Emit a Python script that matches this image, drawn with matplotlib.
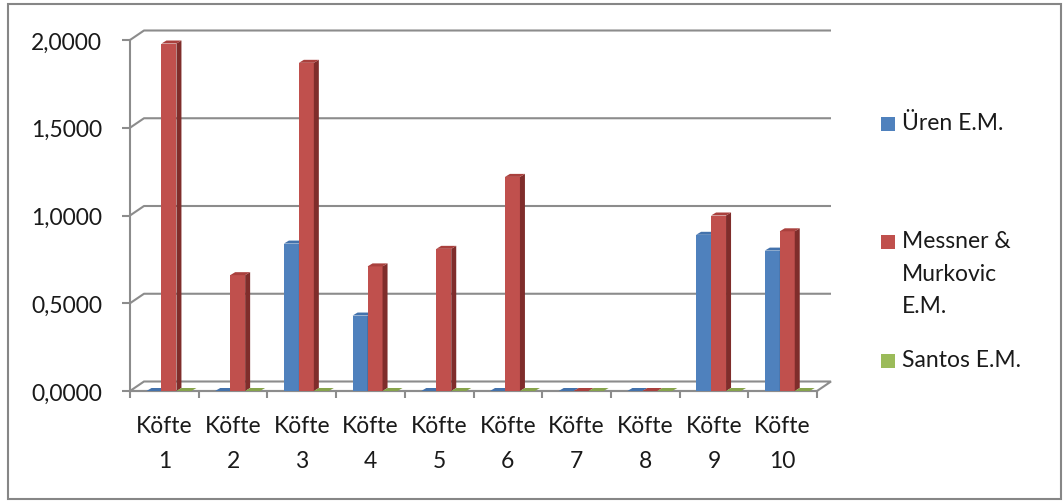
import matplotlib
matplotlib.use("Agg")
import matplotlib.pyplot as plt
from matplotlib.patches import Polygon, Rectangle

# ---- data -------------------------------------------------------------
categories = ["Köfte\n1", "Köfte\n2", "Köfte\n3", "Köfte\n4", "Köfte\n5",
              "Köfte\n6", "Köfte\n7", "Köfte\n8", "Köfte\n9", "Köfte\n10"]
series_names = ["Üren E.M.", "Messner &\nMurkovic\nE.M.", "Santos E.M."]
uren = [0.0, 0.0, 0.84, 0.43, 0.0, 0.0, 0.0, 0.0, 0.89, 0.80]
messner = [1.98, 0.66, 1.87, 0.71, 0.81, 1.22, 0.0, 0.0, 1.00, 0.91]
santos = [0.0, 0.0, 0.0, 0.0, 0.0, 0.0, 0.0, 0.0, 0.0, 0.0]
y_ticks = [0.0, 0.5, 1.0, 1.5, 2.0]

# ---- style ------------------------------------------------------------
FONT = "Lato"
FS = 16.5
TXT = "#1a1a1a"
GRID = "#8c8c8c"
front_cols = ["#4f81bd", "#c0504d", "#9bbb59"]
side_cols = ["#385d8a", "#7f2d2b", "#71893f"]
top_cols = ["#4372ac", "#a9403d", "#87a44c"]

W, H = 1063, 502
fig = plt.figure(figsize=(W / 100, H / 100), dpi=100)
fig.patch.set_facecolor("white")

# front plane of the plot in pixels
x0px, y0px = 130, 392
cat_px = 68.7
unit_px = 175.5
n = len(categories)
ax = fig.add_axes([x0px / W, (H - y0px) / H, n * cat_px / W, 2.0 * unit_px / H])
ax.set_xlim(0, n)
ax.set_ylim(0, 2.0)
ax.set_facecolor("none")
for sp in ax.spines.values():
    sp.set_visible(False)

# depth offsets (pixels converted to data units)
wall_dx, wall_dy = 14 / cat_px, 9.5 / unit_px
bar_dx, bar_dy = 5 / cat_px, 3 / unit_px

# floor
floor = Polygon([(0, 0), (n, 0), (n + wall_dx, wall_dy), (wall_dx, wall_dy)],
                closed=True, facecolor="white", edgecolor=GRID, lw=1.5,
                clip_on=False, zorder=1)
ax.add_patch(floor)

# back-wall gridlines with their side-wall diagonals
for v in y_ticks[1:]:
    ax.plot([0, wall_dx, n + wall_dx], [v, v + wall_dy, v + wall_dy],
            color=GRID, lw=1.5, clip_on=False, zorder=1,
            solid_capstyle="butt")

# front axis lines
ax.plot([0, 0], [0, 2.0], color=GRID, lw=1.5, clip_on=False, zorder=2)
ax.plot([0, n], [0, 0], color=GRID, lw=1.5, clip_on=False, zorder=2)

# bars with side and top faces
bar_w = 0.218
start = 0.24
for s, vals in enumerate([uren, messner, santos]):
    for i, v in enumerate(vals):
        x = i + start + s * bar_w
        z = 3 + s
        if v > 0:
            ax.add_patch(Rectangle((x, 0), bar_w, v, facecolor=front_cols[s],
                                   edgecolor="none", zorder=z, clip_on=False))
            ax.add_patch(Polygon([(x + bar_w, 0), (x + bar_w, v),
                                  (x + bar_w + bar_dx, v + bar_dy),
                                  (x + bar_w + bar_dx, bar_dy)],
                                 closed=True, facecolor=side_cols[s],
                                 edgecolor="none", zorder=z, clip_on=False))
        ax.add_patch(Polygon([(x, v), (x + bar_w, v),
                              (x + bar_w + bar_dx, v + bar_dy),
                              (x + bar_dx, v + bar_dy)],
                             closed=True, facecolor=top_cols[s],
                             edgecolor="none", zorder=z, clip_on=False))

# y axis ticks and labels
ax.set_yticks(y_ticks)
ax.set_yticklabels([f"{v:.4f}".replace(".", ",") for v in y_ticks],
                   fontfamily=FONT, fontsize=FS, color=TXT)
ax.tick_params(axis="y", direction="out", length=6, width=1.5, color=GRID,
               pad=14)

# x axis: category boundary ticks and centred labels
ax.set_xticks(range(n + 1))
ax.set_xticklabels([""] * (n + 1))
ax.tick_params(axis="x", which="major", direction="out", length=5,
               width=1.5, color=GRID)
ax.set_xticks([i + 0.5 for i in range(n)], minor=True)
ax.set_xticklabels(categories, minor=True, fontfamily=FONT, fontsize=FS,
                   color=TXT, linespacing=1.85)
ax.tick_params(axis="x", which="minor", length=0, pad=17)

# legend
def fx(px):
    return px / W


def fy(px):
    return 1 - px / H


legend_rows = [125, 243, 362]
for s, (name, yc) in enumerate(zip(series_names, legend_rows)):
    fig.patches.append(Rectangle((fx(881), fy(yc + 7)), 14 / W, 14 / H,
                                 transform=fig.transFigure,
                                 facecolor=front_cols[s], edgecolor="none"))
    fig.text(fx(902), fy(yc - 12), name, fontfamily=FONT, fontsize=FS,
             color=TXT, va="top", ha="left", linespacing=1.68)

# chart border
fig.patches.append(Rectangle((fx(8), fy(500)), 1053 / W, 495 / H,
                             transform=fig.transFigure, fill=False,
                             edgecolor="#868686", lw=1.5))

fig.savefig("out.png", dpi=100, facecolor="white")
